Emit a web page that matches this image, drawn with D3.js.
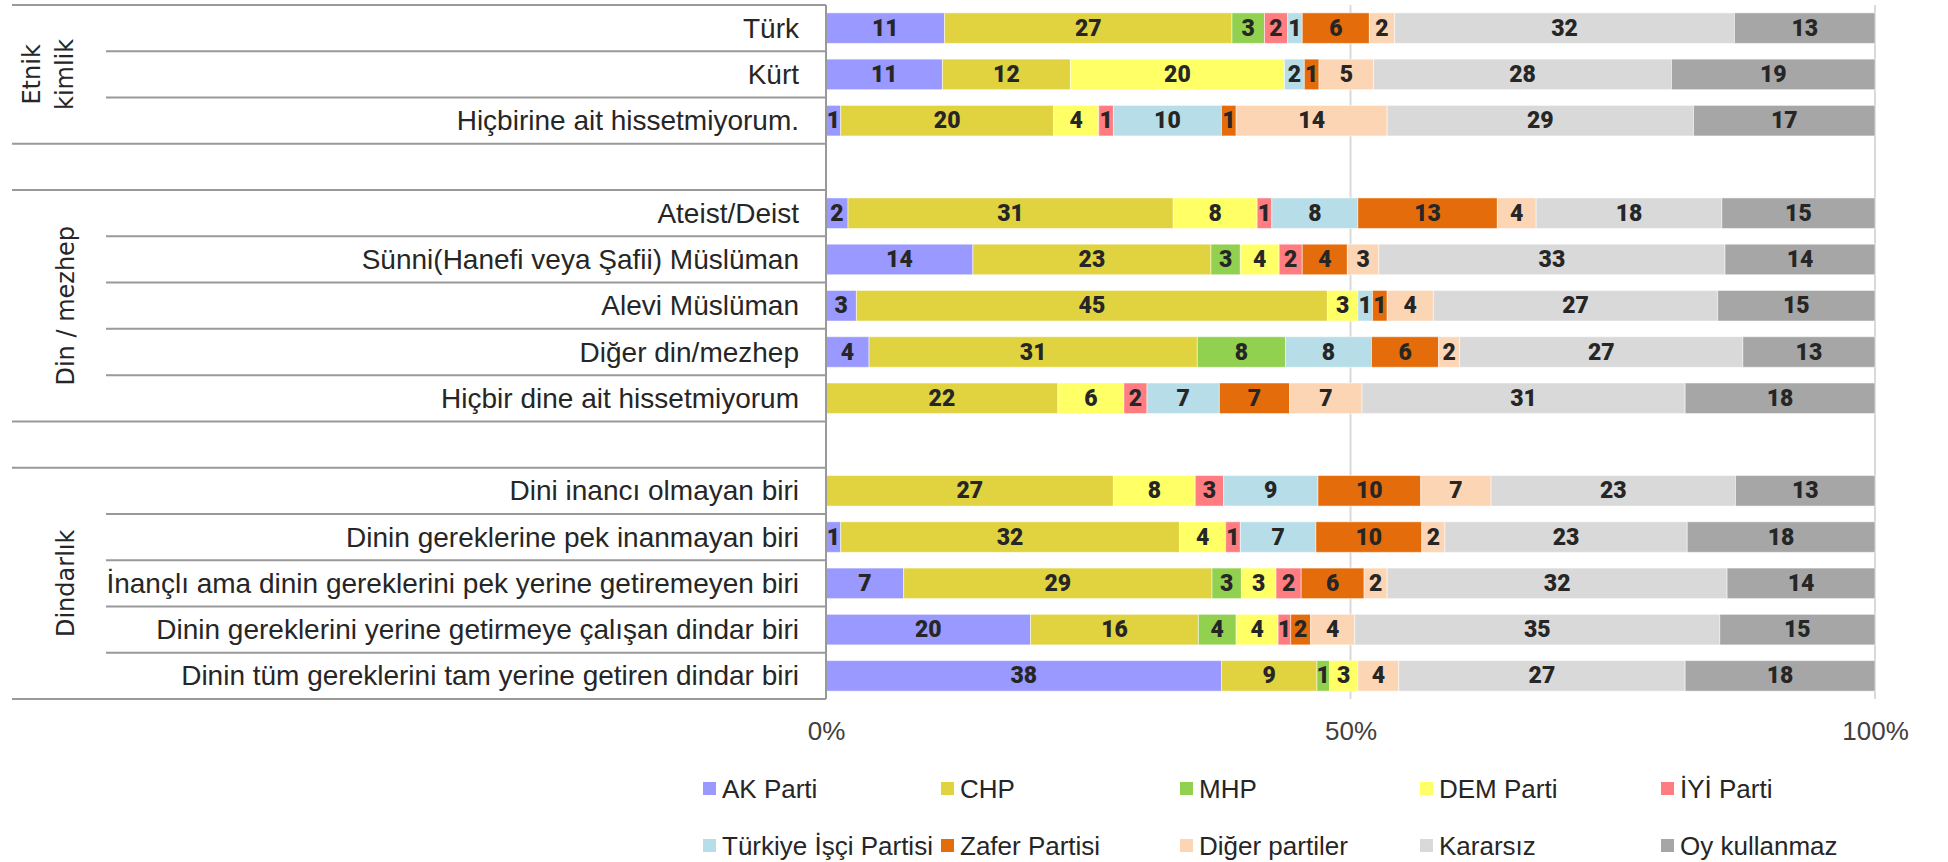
<!DOCTYPE html>
<html>
<head>
<meta charset="utf-8">
<script src="https://cdn.jsdelivr.net/npm/d3@7"></script>
<style>
  body { margin: 0; background: #fff; }
  svg { display: block; }
  .cat { font-family: "Liberation Sans", Arial, sans-serif; font-size: 28px; fill: #262626; }
  .grp { font-family: "DejaVu Sans", Verdana, sans-serif; font-size: 24px; fill: #262626; }
  .val { font-family: Roboto, "DejaVu Sans", sans-serif; font-weight: 900; font-size: 23px; fill: #262626; }
  .tick text { font-family: "Liberation Sans", Arial, sans-serif; font-size: 26px; fill: #404040; }
  .leg { font-family: "Liberation Sans", Arial, sans-serif; font-size: 26px; fill: #262626; }
</style>
</head>
<body>
<script>
const width = 1948, height = 862;

// categories (top to bottom) and their groups
const categories = [
  "Türk", "Kürt", "Hiçbirine ait hissetmiyorum.",
  "Ateist/Deist", "Sünni(Hanefi veya Şafii) Müslüman", "Alevi Müslüman", "Diğer din/mezhep", "Hiçbir dine ait hissetmiyorum",
  "Dini inancı olmayan biri", "Dinin gereklerine pek inanmayan biri", "İnançlı ama dinin gereklerini pek yerine getiremeyen biri",
  "Dinin gereklerini yerine getirmeye çalışan dindar biri", "Dinin tüm gereklerini tam yerine getiren dindar biri"
];
const groupLabels = [["Etnik", "kimlik"], ["Din / mezhep"], ["Dindarlık"]];
const groupSizes = [3, 5, 5];

const parties = ["AK Parti", "CHP", "MHP", "DEM Parti", "İYİ Parti", "Türkiye İşçi Partisi", "Zafer Partisi", "Diğer partiler", "Kararsız", "Oy kullanmaz"];
const colors = ["#9999FF", "#E1D33F", "#92D050", "#FFFF66", "#FF7C80", "#B7DEE8", "#E46C0A", "#FCD5B5", "#D9D9D9", "#A6A6A6"];

// percentages per category
const akParti     = [11.3, 11.1, 1.4, 2.1, 14.0, 2.9, 4.1, 0, 0, 1.4, 7.4, 19.5, 37.7];
const chp         = [27.4, 12.2, 20.3, 31.0, 22.7, 44.9, 31.3, 22.1, 27.4, 32.3, 29.4, 16.0, 9.1];
const mhp         = [3.1, 0, 0, 0, 2.8, 0, 8.4, 0, 0, 0, 2.8, 3.6, 1.2];
const demParti    = [0, 20.4, 4.3, 8.0, 3.7, 2.9, 0, 6.3, 7.8, 4.4, 3.3, 4.0, 2.7];
const iyiParti    = [2.2, 0, 1.4, 1.4, 2.2, 0, 0, 2.2, 2.7, 1.4, 2.4, 1.2, 0];
const tip         = [1.4, 1.9, 10.3, 8.2, 0, 1.4, 8.2, 6.9, 9.0, 7.2, 0, 0, 0];
const zafer       = [6.4, 1.4, 1.4, 13.3, 4.3, 1.4, 6.4, 6.7, 9.8, 10.1, 6.0, 1.9, 0];
const digerler    = [2.4, 5.2, 14.4, 3.7, 3.0, 4.4, 2.0, 6.9, 6.7, 2.2, 2.2, 4.2, 3.9];
const kararsiz    = [32.4, 28.4, 29.2, 17.7, 33.0, 27.1, 27.0, 30.8, 23.3, 23.1, 32.4, 34.8, 27.3];
const oyKullanmaz = [13.4, 19.4, 17.3, 14.6, 14.3, 15.0, 12.6, 18.1, 13.3, 17.9, 14.1, 14.8, 18.1];

const seriesValues = [akParti, chp, mhp, demParti, iyiParti, tip, zafer, digerler, kararsiz, oyKullanmaz];
const tickValues = [0, 0.5, 1];

// table for d3.stack
const rows = categories.map((c, i) => {
  const r = { category: c };
  parties.forEach((p, j) => r[p] = seriesValues[j][i]);
  return r;
});

// slots: categories with an empty slot between groups
const slots = [];
let k = 0;
groupSizes.forEach((n, g) => {
  if (g > 0) slots.push({ id: "gap" + g, gap: true });
  for (let j = 0; j < n; j++, k++) {
    slots.push({ id: categories[k], group: g, first: j === 0, last: j === n - 1 });
  }
});

const yTop = 5, yBottom = 699, axisX0 = 826, axisX1 = 1875;

const x = d3.scaleLinear().domain([0, 1]).range([axisX0, axisX1]);
const y = d3.scaleBand()
  .domain(slots.map(s => s.id))
  .range([yTop, yBottom])
  .paddingInner(0.34)
  .paddingOuter(0.17);
const color = d3.scaleOrdinal().domain(parties).range(colors);

const stack = d3.stack().keys(parties).offset(d3.stackOffsetExpand);
const series = stack(rows);

const svg = d3.select("body").append("svg")
  .attr("width", width)
  .attr("height", height);

const slotTop = id => y(id) - y.step() * y.paddingInner() / 2;
const slotBottom = id => slotTop(id) + y.step();

// gridlines at 50% and 100%
svg.append("g")
  .selectAll("line")
  .data([0.5, 1])
  .join("line")
    .attr("x1", d => x(d)).attr("x2", d => x(d))
    .attr("y1", yTop).attr("y2", yBottom)
    .attr("stroke", "#D9D9D9")
    .attr("stroke-width", 2);

// bars
const layer = svg.append("g")
  .selectAll("g")
  .data(series)
  .join("g")
    .attr("fill", d => color(d.key));

layer.selectAll("rect")
  .data(d => d.filter(s => s[1] - s[0] > 0))
  .join("rect")
    .attr("x", d => x(d[0]))
    .attr("y", d => y(d.data.category))
    .attr("width", d => x(d[1]) - x(d[0]))
    .attr("height", y.bandwidth())
    .attr("stroke", "#fff")
    .attr("stroke-opacity", 0.5)
    .attr("stroke-width", 1);

// value labels
layer.selectAll("text")
  .data(d => d.filter(s => s.data[d.key] > 0).map(s => ({ s, key: d.key })))
  .join("text")
    .attr("class", "val")
    .attr("x", d => (x(d.s[0]) + x(d.s[1])) / 2)
    .attr("y", d => y(d.s.data.category) + y.bandwidth() / 2)
    .attr("text-anchor", "middle")
    .attr("dominant-baseline", "central")
    .text(d => Math.round(d.s.data[d.key]));

// left table frame
const frame = svg.append("g").attr("stroke", "#999").attr("stroke-width", 2);
slots.filter(s => !s.gap).forEach(s => {
  frame.append("line")
    .attr("x1", s.first ? 12 : 106).attr("x2", axisX0)
    .attr("y1", slotTop(s.id)).attr("y2", slotTop(s.id));
  if (s.last) {
    frame.append("line")
      .attr("x1", 12).attr("x2", axisX0)
      .attr("y1", slotBottom(s.id)).attr("y2", slotBottom(s.id));
  }
});
frame.append("line")
  .attr("x1", axisX0).attr("x2", axisX0)
  .attr("y1", yTop).attr("y2", yBottom);

// category labels
svg.append("g")
  .selectAll("text")
  .data(categories)
  .join("text")
    .attr("class", "cat")
    .attr("x", axisX0 - 27)
    .attr("y", d => y(d) + y.bandwidth() / 2)
    .attr("text-anchor", "end")
    .attr("dominant-baseline", "central")
    .text(d => d);

// group labels (rotated, x is the baseline)
let start = 0;
groupLabels.forEach((lines, g) => {
  const ids = categories.slice(start, start + groupSizes[g]);
  start += groupSizes[g];
  const cy = (slotTop(ids[0]) + slotBottom(ids[ids.length - 1])) / 2;
  const xs = lines.length === 2 ? [40, 73] : [74];
  lines.forEach((t, i) => {
    svg.append("text")
      .attr("class", "grp")
      .attr("transform", `translate(${xs[i]},${cy}) rotate(-90)`)
      .attr("text-anchor", "middle")
      .text(t);
  });
});

// x axis labels
svg.append("g")
  .attr("transform", `translate(0,${yBottom})`)
  .call(d3.axisBottom(x).tickValues(tickValues).tickFormat(d3.format(".0%")).tickSize(0).tickPadding(23))
  .call(g => g.select(".domain").remove());

// legend
const legendX = [703, 941, 1180, 1420, 1661];
const legendY = [789, 846];
const legend = svg.append("g")
  .selectAll("g")
  .data(parties)
  .join("g")
    .attr("transform", (d, i) => `translate(${legendX[i % 5]},${legendY[Math.floor(i / 5)]})`);
legend.append("rect")
  .attr("x", 0).attr("y", -7)
  .attr("width", 13).attr("height", 13)
  .attr("fill", d => color(d));
legend.append("text")
  .attr("class", "leg")
  .attr("x", 19)
  .attr("y", 0)
  .attr("dominant-baseline", "central")
  .text(d => d);
</script>
</body>
</html>
